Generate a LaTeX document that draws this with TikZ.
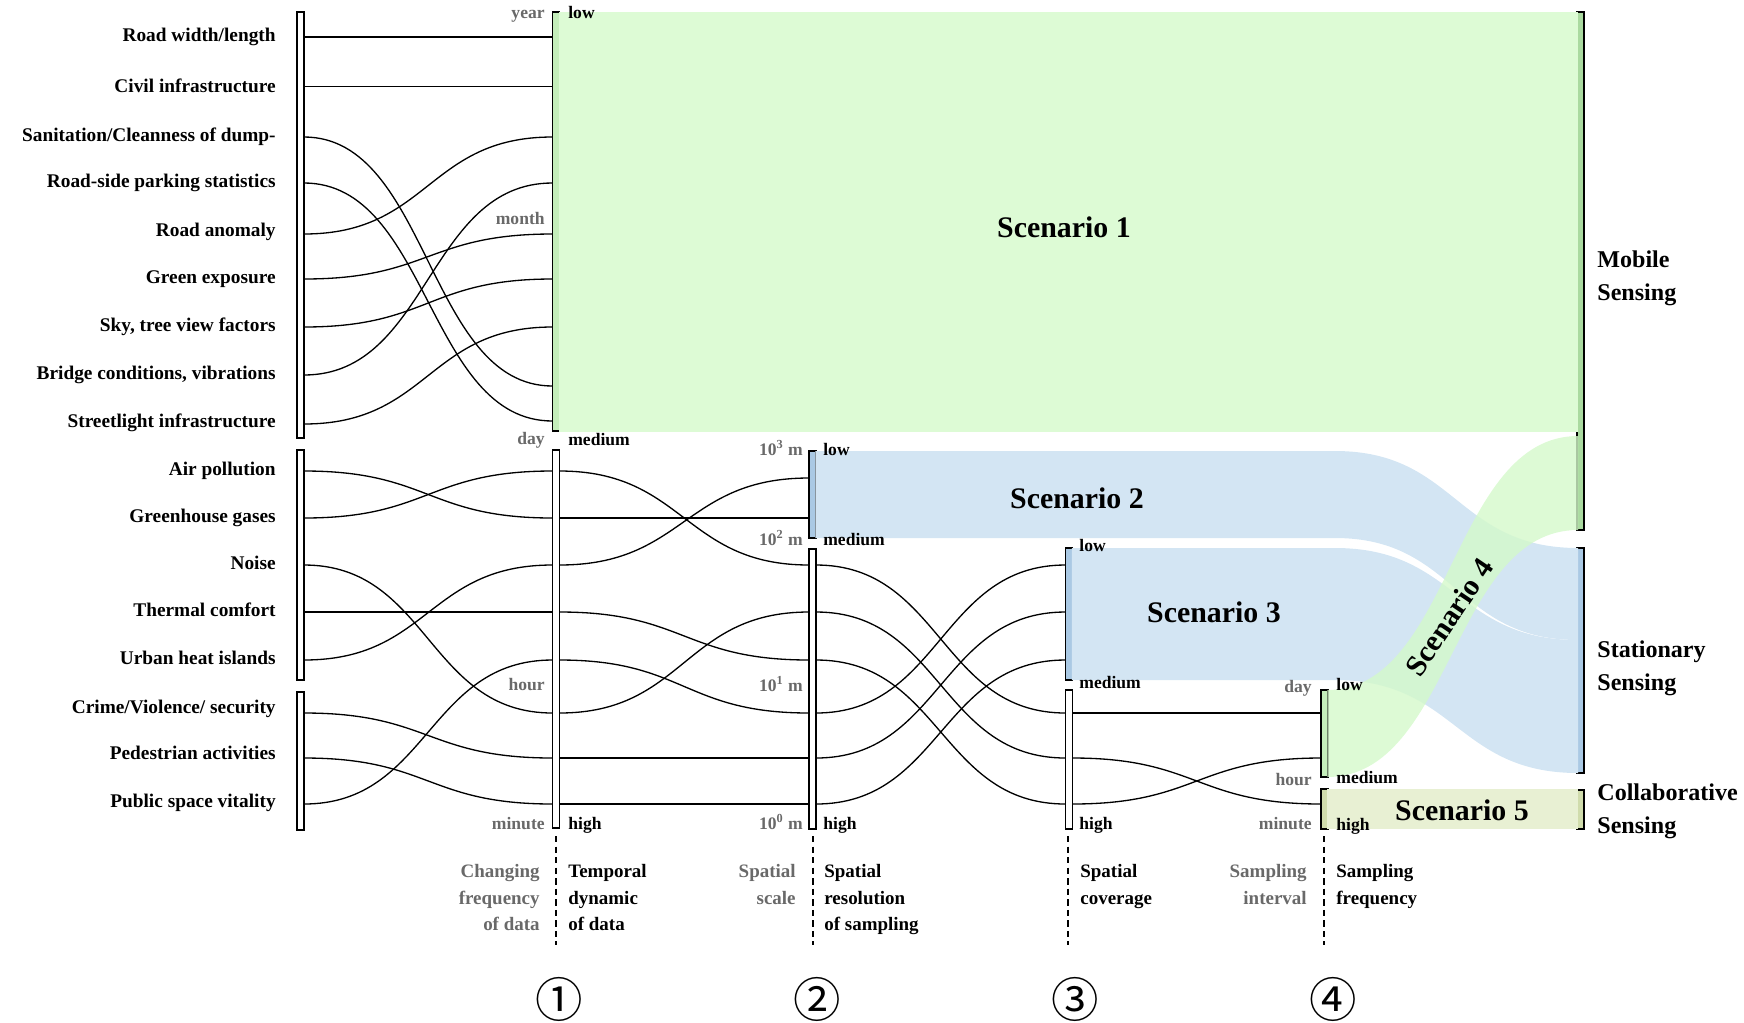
\documentclass[tikz,border=0pt]{standalone}
\usepackage{fontspec}
\setmainfont{Liberation Serif}
\newfontfamily\circfont{Noto Sans CJK SC}
\usetikzlibrary{positioning}

\definecolor{scengreen}{RGB}{221,251,213}
\definecolor{scenfour}{RGB}{212,249,202}
\definecolor{bargreen}{RGB}{196,238,186}
\definecolor{mobgreen}{RGB}{170,218,160}
\definecolor{scenblue}{RGB}{211,229,243}
\definecolor{barblue}{RGB}{170,201,228}
\definecolor{scenolive}{RGB}{232,240,211}
\definecolor{barolive}{RGB}{208,220,172}
\definecolor{scalegray}{RGB}{105,105,105}

\newcommand{\wire}[2]{\draw[wire] (#1) .. controls +(125,0) and +(-125,0) .. (#2);}

\begin{document}
\begin{tikzpicture}[x=0.02cm, y=-0.02cm,
    wire/.style={line width=0.75pt},
    axisbar/.style={draw=black, line width=0.75pt},
    catlabel/.style={anchor=mid east, inner sep=0pt, font=\bfseries\fontsize{11}{13}\selectfont},
    vallabel/.style={inner sep=0pt, font=\bfseries\fontsize{10}{12}\selectfont},
    scalelabel/.style={vallabel, text=scalegray},
    bottomtext/.style={inner sep=0pt, font=\bfseries\fontsize{10.8}{15.1}\selectfont},
    senselabel/.style={anchor=west, align=left, inner sep=0pt, font=\bfseries\fontsize{13.7}{19}\selectfont},
    scenlabel/.style={font=\bfseries\fontsize{17}{20}\selectfont},
    guide/.style={dash pattern=on 3.6pt off 2.4pt, line width=0.6pt},
    circnum/.style={inner sep=0pt, font=\circfont\fontsize{27}{29}\selectfont}]
    \useasboundingbox (0,0) rectangle (1744,1022);

    % Axis bars
    \foreach \xa/\ya/\yb/\col in {297/12/438/white, 297/450/680/white, 297/692/830/white,
        552.5/12/431/bargreen, 552.5/450/828/white,
        809/451/538/barblue, 809/549/829/white,
        1065.5/548/680/barblue, 1065.5/690/829/white,
        1321/690/777/bargreen, 1321/789/829/barolive,
        1577/12/530/mobgreen, 1577/548/773/barblue, 1577/790/829/barolive}
        \draw[axisbar, fill=\col] (\xa,\ya) rectangle (\xa+7,\yb);

    % Ports on the bars
    \foreach \c/\xi/\xo in {0/297/304, 1/552.5/559.5, 2/809/816, 3/1065.5/1072.5, 4/1321/1328}
        \foreach \y [count=\k] in {37,86.5,137,183,234,279,327,375,424,471,518,565,612,660,713,758,804} {
            \coordinate (in\c-\k) at (\xi,\y);
            \coordinate (out\c-\k) at (\xo,\y);
        }
    \coordinate (in1-s1) at (552.5,386);
    \coordinate (in1-s2) at (552.5,421);
    \coordinate (in2-s) at (809,478);

    % Scenario flows
    \fill[scengreen] (558.8,12) rectangle (1578,432);
    \fill[scenblue] (815.3,451) -- (1335,451) .. controls (1456,451) and (1456,548) .. (1578,548)
        -- (1578,640) .. controls (1456,640) and (1456,538) .. (1335,538) -- (815.3,538) -- cycle;
    \fill[scenblue] (1071.8,548) -- (1335,548) .. controls (1456,548) and (1456,640) .. (1578,640)
        -- (1578,773) .. controls (1456,773) and (1456,680) .. (1335,680) -- (1071.8,680) -- cycle;
    \fill[scenolive] (1327.3,789) rectangle (1578,829);
    \fill[scenfour, opacity=0.8] (1327.3,690) .. controls (1452,690) and (1452,436) .. (1578,436)
        -- (1578,530) .. controls (1452,530) and (1452,777) .. (1327.3,777) -- cycle;

    % Wires between the columns
    \foreach \a/\b in {1/1, 2/2, 3/s1, 4/s2, 5/3, 6/5, 7/6, 8/4, 9/7,
        10/11, 11/10, 12/15, 13/13, 14/12, 15/16, 16/17, 17/14}
        {\wire{out0-\a}{in1-\b}}
    \foreach \a/\b in {10/12, 11/11, 12/s, 13/14, 14/15, 15/13, 16/16, 17/17}
        {\wire{out1-\a}{in2-\b}}
    \foreach \a/\b in {12/15, 13/16, 14/17, 15/12, 16/13, 17/14}
        {\wire{out2-\a}{in3-\b}}
    \foreach \a/\b in {15/15, 16/17, 17/16}
        {\wire{out3-\a}{in4-\b}}

    % Data categories
    \foreach \y/\t [count=\i] in {37/Road width\slash length, 88/Civil infrastructure,
        137/Sanitation\slash Cleanness of dump-, 183/Road-side parking statistics,
        232/Road anomaly, 279/Green exposure, 327/{Sky, tree view factors},
        375/{Bridge conditions, vibrations}, 423/Streetlight infrastructure,
        471/Air pollution, 518/Greenhouse gases, 565/Noise, 612/Thermal comfort,
        660/Urban heat islands, 709/Crime\slash Violence\slash{} security,
        755/Pedestrian activities, 803/Public space vitality}
        \node[catlabel] (cat-\i) at (276,\y) {\t};

    % Column 1: temporal dynamic
    \node[scalelabel, anchor=mid east] (c1-year) at (545,14) {year};
    \node[scalelabel, anchor=mid east] (c1-month) at (545,220) {month};
    \node[scalelabel, anchor=mid east] (c1-day) at (545,440) {day};
    \node[scalelabel, anchor=mid east] (c1-hour) at (545,686) {hour};
    \node[scalelabel, anchor=mid east] (c1-minute) at (545,825) {minute};
    \node[vallabel, anchor=mid west] (c1-low) at (568,14) {low};
    \node[vallabel, anchor=mid west] (c1-med) at (568,441) {medium};
    \node[vallabel, anchor=mid west] (c1-high) at (568,825) {high};

    % Column 2: spatial resolution
    \node[scalelabel, anchor=mid east] (c2-km) at (803,451) {10\textsuperscript{3} m};
    \node[scalelabel, anchor=mid east] (c2-hm) at (803,541) {10\textsuperscript{2} m};
    \node[scalelabel, anchor=mid east] (c2-dam) at (803,687) {10\textsuperscript{1} m};
    \node[scalelabel, anchor=mid east] (c2-m) at (803,825) {10\textsuperscript{0} m};
    \node[vallabel, anchor=mid west] (c2-low) at (823,451) {low};
    \node[vallabel, anchor=mid west] (c2-med) at (823,541) {medium};
    \node[vallabel, anchor=mid west] (c2-high) at (823,825) {high};

    % Column 3: spatial coverage
    \node[vallabel, anchor=mid west] (c3-low) at (1079,547) {low};
    \node[vallabel, anchor=mid west] (c3-med) at (1079,684) {medium};
    \node[vallabel, anchor=mid west] (c3-high) at (1079,825) {high};

    % Column 4: sampling frequency
    \node[scalelabel, anchor=mid east] (c4-day) at (1312,688) {day};
    \node[scalelabel, anchor=mid east] (c4-hour) at (1312,781) {hour};
    \node[scalelabel, anchor=mid east] (c4-minute) at (1312,825) {minute};
    \node[vallabel, anchor=mid west] (c4-low) at (1336,686) {low};
    \node[vallabel, anchor=mid west] (c4-med) at (1336,779) {medium};
    \node[vallabel, anchor=mid west] (c4-high) at (1336,826) {high};

    % Sensing types
    \node[senselabel] (mobile) at (1597,278) {Mobile\\Sensing};
    \node[senselabel] (stationary) at (1597,668) {Stationary\\Sensing};
    \node[senselabel] (collab) at (1597,811) {Collaborative\\Sensing};

    % Scenarios
    \node[scenlabel] (scen1) at (1064,227) {Scenario 1};
    \node[scenlabel] (scen2) at (1077,498) {Scenario 2};
    \node[scenlabel] (scen3) at (1214,612) {Scenario 3};
    \node[scenlabel, rotate=56] (scen4) at (1449,617) {Scenario 4};
    \node[scenlabel] (scen5) at (1462,810) {Scenario 5};

    % Guides and captions under the columns
    \foreach \x in {556,813,1068,1324}
        \draw[guide] (\x,836) -- (\x,945);
    \node[bottomtext, text=scalegray, align=right, anchor=north east] (cap1a) at (540,864) {Changing\\frequency\\of data};
    \node[bottomtext, align=left, anchor=north west] (cap1b) at (568,864) {Temporal\\dynamic\\of data};
    \node[bottomtext, text=scalegray, align=right, anchor=north east] (cap2a) at (796,864) {Spatial\\scale};
    \node[bottomtext, align=left, anchor=north west] (cap2b) at (824,864) {Spatial\\resolution\\of sampling};
    \node[bottomtext, align=left, anchor=north west] (cap3b) at (1080,864) {Spatial\\coverage};
    \node[bottomtext, text=scalegray, align=right, anchor=north east] (cap4a) at (1307,864) {Sampling\\interval};
    \node[bottomtext, align=left, anchor=north west] (cap4b) at (1336,864) {Sampling\\frequency};

    \node[circnum] (num1) at (559.5,999) {①};
    \node[circnum] (num2) at (817.5,999) {②};
    \node[circnum] (num3) at (1075.5,999) {③};
    \node[circnum] (num4) at (1333.5,999) {④};
\end{tikzpicture}
\end{document}
